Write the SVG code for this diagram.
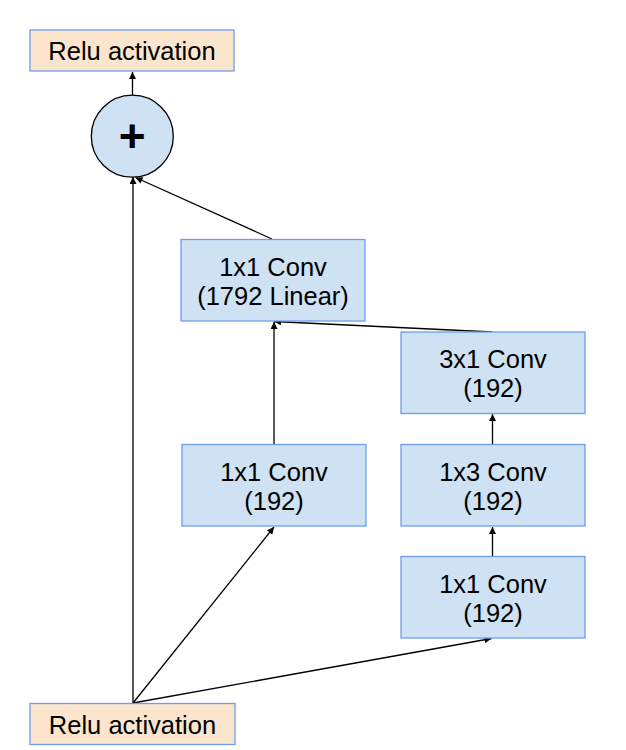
<svg xmlns="http://www.w3.org/2000/svg" width="626" height="750" viewBox="0 0 626 750">
<defs>
<marker id="ah" viewBox="0 0 10 10" refX="10" refY="5" markerWidth="8" markerHeight="7" markerUnits="userSpaceOnUse" orient="auto">
<path d="M0,0 L10,5 L0,10 z" fill="#000"/>
</marker>
<style>
.relu{fill:#fce5cd;stroke:#6d9eeb;stroke-width:1.3}
.conv{fill:#cfe2f3;stroke:#6d9eeb;stroke-width:1.3}
.t{font-family:"Liberation Sans",Arial,sans-serif;font-size:25.5px;fill:#000;text-anchor:middle}
.c{stroke:#000;stroke-width:1.3;fill:none;marker-end:url(#ah)}
</style>
</defs>
<rect width="626" height="750" fill="#fff"/>
<g id="connectors">
<line class="c" x1="132.5" y1="95" x2="132.5" y2="72"/>
<line class="c" x1="133" y1="703" x2="133" y2="177"/>
<line class="c" x1="272" y1="239" x2="135.5" y2="177.5"/>
<line class="c" x1="274" y1="444" x2="274" y2="322"/>
<line class="c" x1="492.5" y1="332" x2="274" y2="321.5"/>
<line class="c" x1="492.5" y1="444" x2="492.5" y2="414"/>
<line class="c" x1="492.5" y1="556" x2="492.5" y2="527"/>
<line class="c" x1="133" y1="703" x2="274" y2="527"/>
<line class="c" x1="133" y1="703" x2="491.5" y2="638.5"/>
</g>
<g id="relu_top">
<rect class="relu" x="30" y="30" width="204" height="41"/>
<text class="t" x="132" y="60">Relu activation</text>
</g>
<g id="add">
<circle cx="132.3" cy="136.2" r="41" fill="#cfe2f3" stroke="#000" stroke-width="1.3"/>
<text x="132.3" y="152" font-family="Liberation Sans,Arial,sans-serif" font-size="46" font-weight="bold" text-anchor="middle" fill="#000">+</text>
</g>
<g id="conv1792">
<rect class="conv" x="181" y="239.5" width="184" height="81.5"/>
<text class="t" x="273" y="275.5">1x1 Conv</text>
<text class="t" x="273" y="304.5">(1792 Linear)</text>
</g>
<g id="conv3x1">
<rect class="conv" x="401" y="332" width="184" height="81.5"/>
<text class="t" x="493" y="368">3x1 Conv</text>
<text class="t" x="493" y="397">(192)</text>
</g>
<g id="conv1x1_left">
<rect class="conv" x="182" y="444.5" width="184" height="81.5"/>
<text class="t" x="274" y="480.5">1x1 Conv</text>
<text class="t" x="274" y="509.5">(192)</text>
</g>
<g id="conv1x3">
<rect class="conv" x="401" y="444.5" width="184" height="81.5"/>
<text class="t" x="493" y="480.5">1x3 Conv</text>
<text class="t" x="493" y="509.5">(192)</text>
</g>
<g id="conv1x1_right">
<rect class="conv" x="401" y="556.5" width="184" height="81.5"/>
<text class="t" x="493" y="592.5">1x1 Conv</text>
<text class="t" x="493" y="621.5">(192)</text>
</g>
<g id="relu_bottom">
<rect class="relu" x="30" y="703.5" width="205" height="41"/>
<text class="t" x="132.5" y="733.5">Relu activation</text>
</g>
</svg>
